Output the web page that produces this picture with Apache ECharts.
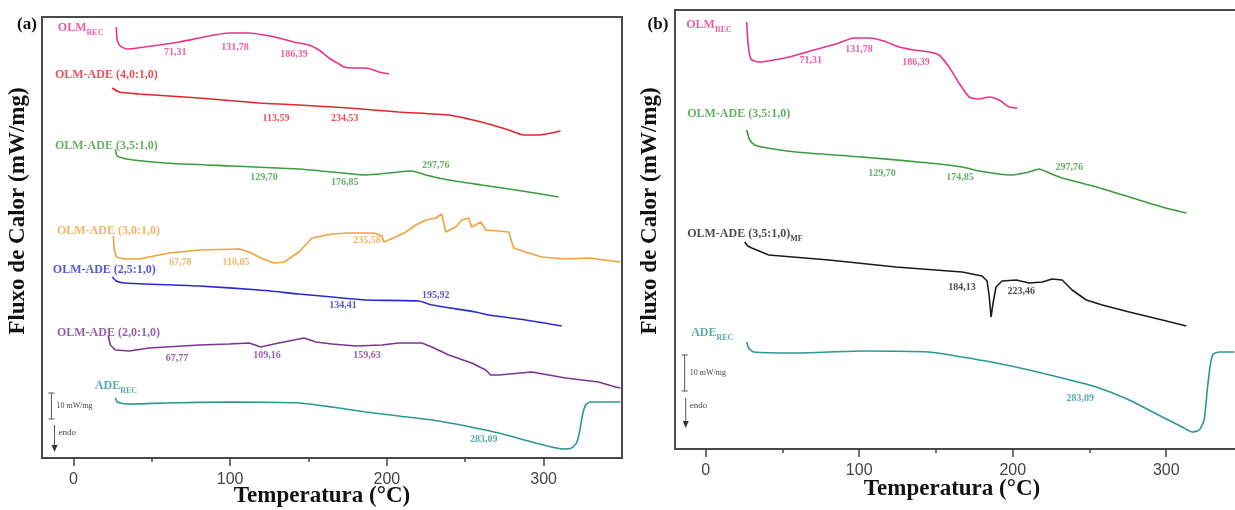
<!DOCTYPE html>
<html>
<head>
<meta charset="utf-8">
<script src="https://cdn.jsdelivr.net/npm/echarts@6/dist/echarts.min.js"></script>
<style>
  html, body { margin: 0; padding: 0; background: #fff; }
  #chart { width: 1235px; height: 510px; }
</style>
</head>
<body>
<div id="chart"></div>
<script>
// eixo de temperatura
const tempTicks = [0, 100, 200, 300];
const tempMinorTicks = [50, 150, 250];

// (a) curvas DSC: [temperatura °C, fluxo de calor (u.a., curvas deslocadas)]
const aOlmRec = [[27.4,431],[28,418],[29.9,412],[34.4,409],[45.2,411],[54.8,413],[67.5,416],[80.3,420],[89.8,423],[99.4,425],[112.1,425],[121.7,423],[131.2,420],[140.8,416],[150.3,413],[156.7,408],[163.1,400],[169.4,394],[172.6,391],[179,390],[185.4,390],[189.8,389],[194.9,386],[201.3,384]];
const aAde40 = [[24.8,370],[29.3,366],[42,364],[61.1,362],[80.3,360],[118.5,355],[143.9,353],[175.8,350],[207.6,346],[239.5,343],[252.2,339],[265,334],[277.7,328],[287.3,323],[296.8,323],[305.1,325],[310.8,327]];
const aAde35 = [[26.8,309],[28,302],[33.8,299],[59.2,295],[101.3,292],[143.9,289],[165,286],[186.6,283],[201.3,285],[216,287],[224.8,283],[239.5,278],[260.5,273],[282.2,268],[309.6,261]];
const aAde30 = [[25.5,222],[26.1,208],[27.4,201],[32.5,199],[42,199],[61.1,205],[80.3,208],[105.7,209],[112.1,206],[119.7,200],[128,195],[134.4,196],[143.9,206],[152.2,220],[165,224],[175.8,225],[182.2,225],[191.7,225],[196.8,222],[198.1,216],[205.7,221],[212.1,226],[218.5,233],[224.8,238],[231.2,240],[235,244],[237.6,226],[243.9,231],[247.8,238],[252.2,240],[254.1,231],[259.9,236],[263.1,228],[271.3,227],[277.7,226],[280.9,210],[288.5,206],[298.7,201],[314,199],[328.7,200],[349,196]];
const aAde25 = [[24.8,181],[27.4,177],[32.5,175],[80.3,172],[118.5,168],[143.9,164],[165,161],[186.6,158],[220.4,157],[228.7,153],[256.7,146],[265,143],[288.5,138],[311.5,132]];
const aAde20 = [[22.3,122],[23.6,113],[26.8,108],[35.7,107],[48.4,110],[80.3,113],[99.4,114],[112.1,115],[119.7,111],[128,114],[137.6,117],[147.1,120],[154.8,116],[165,114],[180.3,112],[196.8,113],[207.6,115],[222.3,115],[228.7,111],[239.5,103],[254.1,95],[263.1,88],[266.2,83],[271.3,83],[292.4,86],[314,80],[335,76],[345.9,71],[349,70]];
const aAdeRec = [[26.8,60],[28,56],[33.8,54],[59.2,55],[101.3,56],[143.9,55],[165,51],[186.6,46],[207.6,42],[228.7,38],[250.3,32],[271.3,25],[292.4,16],[305.1,11],[312.7,9],[317.8,10],[321,15],[322.9,26],[324.8,43],[326.8,53],[329.9,56],[349,56]];

// (b) curvas DSC
const bOlmRec = [[26.7,427],[27.6,405],[29.4,390],[34.6,387],[54.1,392],[70.5,399],[86.8,406],[96.5,411],[106.3,411],[116.1,408],[125.9,402],[135.7,399],[145.5,397],[152,394],[158.5,382],[165,366],[171.6,352],[178.1,350],[184.6,352],[191.1,349],[197.7,342],[202.9,341]];
const bAde35 = [[26.7,319],[28.7,309],[31.9,304],[36.5,302],[58.7,297],[101.8,292],[145.5,286],[167,282],[178.1,278],[191.1,275],[199.6,274],[210.7,277],[217.2,280],[223.7,276],[232.2,271],[254.4,262],[275.9,252],[297.4,242],[313.1,236]];
const bAde35Mf = [[25.4,207],[27.4,203],[30,201],[41.1,194],[80.2,189],[123.9,182],[167,177],[180,173],[183.3,168],[184.6,154],[185.9,132],[187.2,146],[189.1,162],[193,168],[202.2,169],[210.7,166],[219.2,167],[225.7,170],[232.2,169],[238.7,159],[247.9,149],[258.3,144],[275.9,137],[297.4,129],[313.1,123]];
const bAdeRec = [[26.7,107],[28,101],[31.3,97],[58.7,96],[101.8,98],[145.5,97],[167,92],[189.2,86],[210.7,79],[232.2,71],[254.4,62],[275.9,49],[297.4,32],[310.4,22],[316.9,17],[321.5,19],[324.7,29],[326.7,59],[328.7,84],[330.6,95],[334.6,97],[344.4,97]];

// rótulos das amostras: [T, fluxo, texto, subscrito]
const aOlmRecName = [-10.2, 430, 'OLM', 'REC'];
const aAde40Name = [-12.1, 383, 'OLM-ADE (4,0:1,0)'];
const aAde35Name = [-12.1, 312, 'OLM-ADE (3,5:1,0)'];
const aAde30Name = [-10.8, 227, 'OLM-ADE (3,0:1,0)'];
const aAde25Name = [-13.4, 188, 'OLM-ADE (2,5:1,0)'];
const aAde20Name = [-10.8, 125, 'OLM-ADE (2,0:1,0)'];
const aAdeRecName = [13.4, 72, 'ADE', 'REC'];
const bOlmRecName = [-13, 424, 'OLM', 'REC'];
const bAde35Name = [-12.4, 335, 'OLM-ADE (3,5:1,0)'];
const bAde35MfName = [-12.4, 215, 'OLM-ADE (3,5:1,0)', 'MF'];
const bAdeRecName = [-9.8, 116, 'ADE', 'REC'];

// temperaturas de pico: [T, fluxo, texto]
const aOlmRecPeaks = [[65, 406, '71,31'], [103.2, 411, '131,78'], [140.8, 404, '186,39']];
const aAde40Peaks = [[129.3, 340, '113,59'], [173.2, 340, '234,53']];
const aAde35Peaks = [[121.7, 281, '129,70'], [173.2, 276, '176,85'], [231.2, 293, '297,76']];
const aAde30Peaks = [[68.2, 196, '67,78'], [103.8, 196, '110,05'], [187.3, 218, '235,58']];
const aAde25Peaks = [[172, 153, '134,41'], [231.2, 163, '195,92']];
const aAde20Peaks = [[66.2, 100, '67,77'], [123.6, 103, '109,16'], [187.3, 103, '159,63']];
const aAdeRecPeaks = [[261.8, 19, '283,09']];
const bOlmRecPeaks = [[68.5, 389, '71,31'], [99.8, 400, '131,78'], [137, 387, '186,39']];
const bAde35Peaks = [[114.8, 276, '129,70'], [165.7, 272, '174,85'], [236.8, 282, '297,76']];
const bAde35MfPeaks = [[167, 162, '184,13'], [205.5, 158, '223,46']];
const bAdeRecPeaks = [[244, 51, '283,09']];

const serif = '"Liberation Serif", "DejaVu Serif", serif';
const sans = '"Liberation Sans", Arial, sans-serif';

const C = {
  pink: '#e8338a', red: '#e3262e', green: '#3d9b40', orange: '#f3a13c',
  blue: '#2a2ad2', purple: '#7c3590', teal: '#2e9696', black: '#1c1c1c'
};

function curve(g, data, color, smooth) {
  return {
    type: 'line', xAxisIndex: g * 2, yAxisIndex: g, data,
    symbol: 'none', smooth: smooth, silent: true, animation: false, z: 3,
    lineStyle: { color, width: 1.6 }, itemStyle: { color }
  };
}

function notes(g, name, peaks, color) {
  const items = [{
    value: [name[0], name[1]],
    txt: name[3] ? `{m|${name[2]}}{s|${name[3]}}` : `{m|${name[2]}}`,
    label: { position: 'right', distance: 0 }
  }];
  peaks.forEach(p => items.push({ value: [p[0], p[1]], txt: `{n|${p[2]}}`, label: { position: 'inside' } }));
  return {
    type: 'scatter', xAxisIndex: g * 2, yAxisIndex: g, symbolSize: 1,
    itemStyle: { color: 'rgba(0,0,0,0)' }, silent: true, animation: false, z: 4,
    label: {
      show: true, formatter: p => p.data.txt,
      rich: {
        m: { fontFamily: serif, fontWeight: 'bold', fontSize: 12, color },
        s: { fontFamily: serif, fontWeight: 'bold', fontSize: 8, color, padding: [9, 0, 0, 0] },
        n: { fontFamily: serif, fontWeight: 'bold', fontSize: 10, color }
      }
    },
    data: items
  };
}

function xAxes(g) {
  const base = { type: 'value', gridIndex: g, min: -20, max: 350, position: 'bottom', splitLine: { show: false } };
  return [
    Object.assign({}, base, {
      axisLine: { show: false },
      axisTick: { show: true, customValues: tempTicks, length: 8, lineStyle: { color: '#444', width: 1.5 } },
      axisLabel: { show: true, customValues: tempTicks, margin: 14, fontFamily: sans, fontSize: 16, color: '#444' }
    }),
    Object.assign({}, base, {
      axisLine: { show: false },
      axisTick: { show: true, customValues: tempMinorTicks, length: 4, lineStyle: { color: '#444', width: 1.5 } },
      axisLabel: { show: false }
    })
  ];
}

const chart = echarts.init(document.getElementById('chart'));
chart.setOption({
  animation: false,
  backgroundColor: '#fff',
  grid: [
    { left: 42, right: 613, top: 17, bottom: 52, outerBoundsMode: 'none', show: true, borderColor: '#4a4a4a', borderWidth: 2 },
    // painel (b) é cortado na borda direita da figura
    { left: 675, right: -8, top: 10, bottom: 61, outerBoundsMode: 'none', show: true, borderColor: '#4a4a4a', borderWidth: 2 }
  ],
  xAxis: xAxes(0).concat(xAxes(1)),
  yAxis: [
    { type: 'value', gridIndex: 0, min: 0, max: 441, show: false },
    { type: 'value', gridIndex: 1, min: 0, max: 439, show: false }
  ],
  series: [
    curve(0, aOlmRec, C.pink, 0.2), notes(0, aOlmRecName, aOlmRecPeaks, C.pink),
    curve(0, aAde40, C.red, 0.2), notes(0, aAde40Name, aAde40Peaks, C.red),
    curve(0, aAde35, C.green, 0.2), notes(0, aAde35Name, aAde35Peaks, C.green),
    curve(0, aAde30, C.orange, false), notes(0, aAde30Name, aAde30Peaks, C.orange),
    curve(0, aAde25, C.blue, 0.2), notes(0, aAde25Name, aAde25Peaks, C.blue),
    curve(0, aAde20, C.purple, false), notes(0, aAde20Name, aAde20Peaks, C.purple),
    curve(0, aAdeRec, C.teal, 0.2), notes(0, aAdeRecName, aAdeRecPeaks, C.teal),
    curve(1, bOlmRec, C.pink, 0.2), notes(1, bOlmRecName, bOlmRecPeaks, C.pink),
    curve(1, bAde35, C.green, 0.2), notes(1, bAde35Name, bAde35Peaks, C.green),
    curve(1, bAde35Mf, C.black, false), notes(1, bAde35MfName, bAde35MfPeaks, C.black),
    curve(1, bAdeRec, C.teal, 0.2), notes(1, bAdeRecName, bAdeRecPeaks, C.teal)
  ]
});

// escala 10 mW/mg e seta "endo", posicionadas em coordenadas de dados
const P = (g, p) => chart.convertToPixel({ gridIndex: g }, p);
function scaleMarks(g, barX, barTop, barBottom, arrowX, arrowTop, arrowBottom) {
  const t = P(g, [barX, barTop]), b = P(g, [barX, barBottom]);
  const at = P(g, [arrowX, arrowTop]), ab = P(g, [arrowX, arrowBottom]);
  const stroke = { stroke: '#555', lineWidth: 1 };
  return [
    { type: 'line', shape: { x1: t[0], y1: t[1], x2: b[0], y2: b[1] }, style: stroke },
    { type: 'line', shape: { x1: t[0] - 3, y1: t[1], x2: t[0] + 3, y2: t[1] }, style: stroke },
    { type: 'line', shape: { x1: b[0] - 3, y1: b[1], x2: b[0] + 3, y2: b[1] }, style: stroke },
    { type: 'text', x: t[0] + 5, y: (t[1] + b[1]) / 2, style: { text: '10 mW/mg', font: '8px ' + serif, fill: '#444', verticalAlign: 'middle' } },
    { type: 'line', shape: { x1: at[0], y1: at[1], x2: ab[0], y2: ab[1] - 5 }, style: stroke },
    { type: 'polygon', shape: { points: [[ab[0] - 3, ab[1] - 7], [ab[0] + 3, ab[1] - 7], [ab[0], ab[1]]] }, style: { fill: '#333' } },
    { type: 'text', x: at[0] + 4, y: at[1] + 8, style: { text: 'endo', font: '9px ' + serif, fill: '#444', verticalAlign: 'middle' } }
  ];
}

const titleFont = 'bold 23px ' + serif;
chart.setOption({
  graphic: [].concat(
    scaleMarks(0, -14, 65, 39, -12, 33, 6),
    scaleMarks(1, -13.7, 94, 58, -13, 51, 21),
    [
      { type: 'text', x: 27, y: 25, style: { text: '(a)', font: 'bold 17px ' + serif, fill: '#111', align: 'center', verticalAlign: 'middle' } },
      { type: 'text', x: 658, y: 25, style: { text: '(b)', font: 'bold 17px ' + serif, fill: '#111', align: 'center', verticalAlign: 'middle' } },
      { type: 'text', x: 18, y: 211, rotation: Math.PI / 2, style: { text: 'Fluxo de Calor (mW/mg)', font: titleFont, fill: '#111', align: 'center', verticalAlign: 'middle' } },
      { type: 'text', x: 650, y: 211, rotation: Math.PI / 2, style: { text: 'Fluxo de Calor (mW/mg)', font: titleFont, fill: '#111', align: 'center', verticalAlign: 'middle' } },
      { type: 'text', x: 322, y: 496, style: { text: 'Temperatura (°C)', font: titleFont, fill: '#111', align: 'center', verticalAlign: 'middle' } },
      { type: 'text', x: 952, y: 489, style: { text: 'Temperatura (°C)', font: titleFont, fill: '#111', align: 'center', verticalAlign: 'middle' } }
    ]
  )
});
</script>
</body>
</html>
